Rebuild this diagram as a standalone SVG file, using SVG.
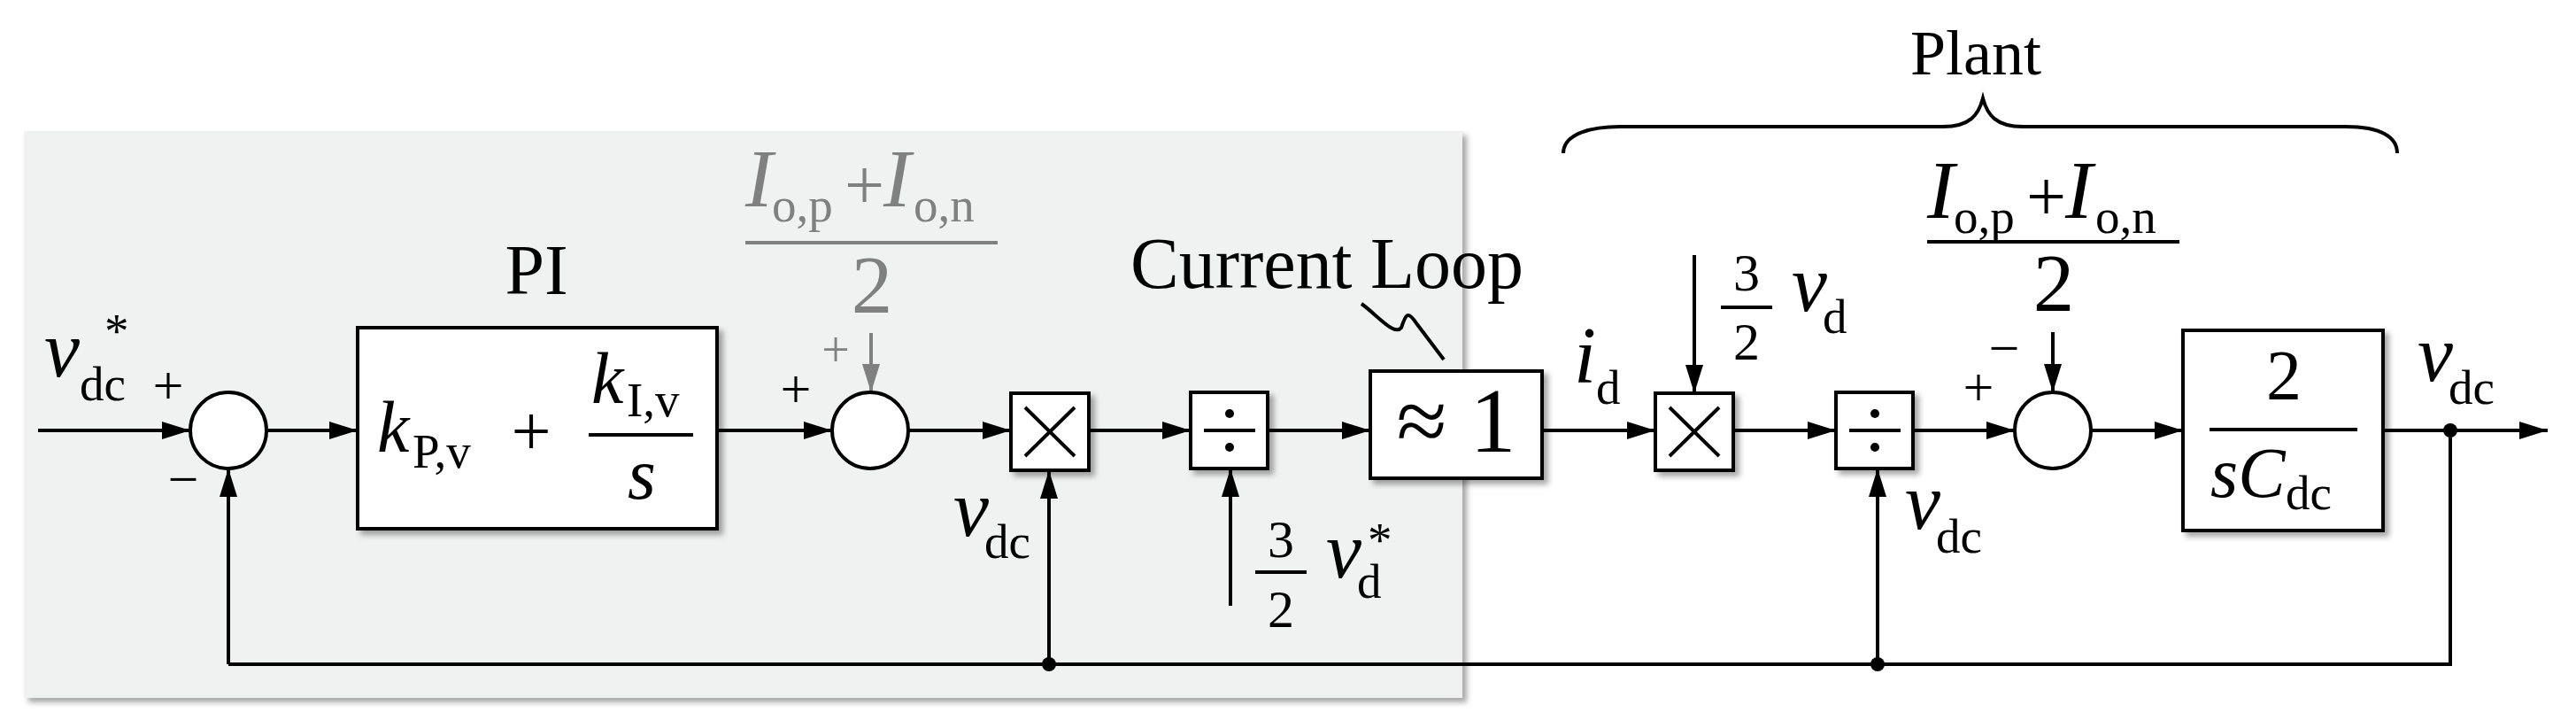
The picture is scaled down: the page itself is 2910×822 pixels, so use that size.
<svg xmlns="http://www.w3.org/2000/svg" width="2910" height="822" viewBox="0 0 2910 822">
<defs>
<marker id="ah" markerUnits="userSpaceOnUse" markerWidth="40" markerHeight="24" refX="32" refY="10" orient="auto"><path d="M0,0 L32,10 L0,20 z" fill="#000"/></marker>
<marker id="ahg" markerUnits="userSpaceOnUse" markerWidth="40" markerHeight="24" refX="32" refY="10" orient="auto"><path d="M0,0 L32,10 L0,20 z" fill="#808080"/></marker>
<filter id="sh" x="-10%" y="-10%" width="130%" height="130%"><feDropShadow dx="5" dy="5" stdDeviation="3" flood-color="#000" flood-opacity="0.35"/></filter>
</defs>
<style>
.w{stroke:#000;stroke-width:4;fill:none}
.a{stroke:#000;stroke-width:4;fill:none;marker-end:url(#ah)}
.g{stroke:#808080;stroke-width:4;fill:none;marker-end:url(#ahg)}
.bx{fill:#fff;stroke:#000;stroke-width:4;filter:url(#sh)}
.c{fill:#fff;stroke:#000;stroke-width:4}
text{font-family:"Liberation Serif","Times New Roman",serif;fill:#000}
.i{font-style:italic}
.gr{fill:#808080}
</style>
<rect x="27" y="148" width="1625" height="640" fill="#f0f2f1" filter="url(#sh)"/>
<g id="connectors">
<line class="a" x1="43" y1="486" x2="215" y2="486"/>
<line class="a" x1="301" y1="486" x2="404" y2="486"/>
<line class="a" x1="810" y1="486" x2="940" y2="486"/>
<line class="a" x1="1026" y1="486" x2="1142" y2="486"/>
<line class="a" x1="1230" y1="486" x2="1345" y2="486"/>
<line class="a" x1="1432" y1="486" x2="1548" y2="486"/>
<line class="a" x1="1742" y1="486" x2="1870" y2="486"/>
<line class="a" x1="1958" y1="486" x2="2074" y2="486"/>
<line class="a" x1="2161" y1="486" x2="2276" y2="486"/>
<line class="a" x1="2362" y1="486" x2="2466" y2="486"/>
<line class="a" x1="2692" y1="486" x2="2878" y2="486"/>
<polyline class="w" points="2768,486 2768,750 258,750"/>
<line class="a" x1="258" y1="750" x2="258" y2="529"/>
<line class="a" x1="1185" y1="750" x2="1185" y2="531"/>
<line class="a" x1="2121" y1="750" x2="2121" y2="529"/>
<line class="a" x1="1390" y1="684" x2="1390" y2="529"/>
<line class="a" x1="1914" y1="288" x2="1914" y2="444"/>
<line class="a" x1="2319" y1="375" x2="2319" y2="443"/>
<line class="g" x1="984" y1="376" x2="984" y2="443"/>
<circle cx="1185" cy="750" r="8"/>
<circle cx="2121" cy="750" r="8"/>
<circle cx="2768" cy="486" r="8"/>
<path class="w" stroke-width="3" d="M1538,343 C1555,355 1575,380 1583,370 C1588,355 1590,350 1600,365 L1631,406"/>
<path class="w" stroke-width="3" d="M1766,173 C1766,150 1800,143 1830,143 L2195,143 C2225,143 2235,130 2240,111 C2245,130 2255,143 2285,143 L2650,143 C2690,143 2708,155 2708,173"/>
</g>
<g id="sum1"><circle class="c" cx="258" cy="486" r="43"/><text x="190" y="456" font-size="62" text-anchor="middle">+</text><text x="207" y="562" font-size="62" text-anchor="middle">−</text></g>
<g id="vdcref"><text x="50" y="425" class="i" font-size="90">v</text><text x="90" y="452" font-size="55">dc</text><text x="118" y="392" font-size="55">*</text></g>
<g id="pi"><rect class="bx" x="404" y="370" width="406" height="227"/>
<text x="606" y="332" font-size="80" text-anchor="middle">PI</text>
<text x="426" y="510" class="i" font-size="82">k</text><text x="466" y="528" font-size="55">P,v</text>
<text x="600" y="514" font-size="80" text-anchor="middle">+</text>
<text x="668" y="455" class="i" font-size="82">k</text><text x="708" y="470" font-size="55">I,v</text>
<line class="w" x1="665" y1="491" x2="783" y2="491"/>
<text x="725" y="563" class="i" font-size="82" text-anchor="middle">s</text></g>
<g id="sum2"><circle class="c" cx="983" cy="486" r="43"/><text x="899" y="460" font-size="62" text-anchor="middle">+</text><text x="944" y="414" font-size="56" text-anchor="middle" class="gr">+</text>
<text x="842" y="233" class="i gr" font-size="93">I</text><text x="872" y="250" font-size="55" class="gr">o,p</text><text x="954" y="236" font-size="80" class="gr">+</text><text x="998" y="233" class="i gr" font-size="93">I</text><text x="1032" y="250" font-size="55" class="gr">o,n</text>
<line x1="842" y1="274" x2="1127" y2="274" stroke="#808080" stroke-width="4"/><text x="985" y="353" font-size="93" text-anchor="middle" class="gr">2</text></g>
<g id="mult1"><rect class="bx" x="1142" y="444" width="88" height="87"/><path class="w" stroke-width="3" d="M1158,460 L1214,515 M1214,460 L1158,515"/>
<text x="1077" y="605" class="i" font-size="90">v</text><text x="1112" y="630" font-size="55">dc</text></g>
<g id="div1"><rect class="bx" x="1345" y="443" width="87" height="86"/><line class="w" stroke-width="3" x1="1360" y1="486" x2="1418" y2="486"/><circle cx="1389" cy="467" r="5"/><circle cx="1389" cy="505" r="5"/>
<text x="1447" y="629" font-size="60" text-anchor="middle">3</text><line class="w" stroke-width="3" x1="1418" y1="646" x2="1476" y2="646"/><text x="1447" y="708" font-size="60" text-anchor="middle">2</text>
<text x="1498" y="652" class="i" font-size="90">v</text><text x="1533" y="675" font-size="55">d</text><text x="1545" y="628" font-size="55">*</text></g>
<g id="current"><rect class="bx" x="1548" y="419" width="194" height="121"/><text x="1645" y="510" font-size="104" text-anchor="middle">≈ 1</text>
<text x="1277" y="325" font-size="82">Current Loop</text></g>
<g id="id"><text x="1778" y="432" class="i" font-size="90">i</text><text x="1803" y="456" font-size="55">d</text></g>
<g id="mult2"><rect class="bx" x="1870" y="444" width="88" height="87"/><path class="w" stroke-width="3" d="M1886,460 L1942,515 M1942,460 L1886,515"/>
<text x="1973" y="328" font-size="60" text-anchor="middle">3</text><line class="w" stroke-width="3" x1="1944" y1="347" x2="2002" y2="347"/><text x="1973" y="406" font-size="60" text-anchor="middle">2</text>
<text x="2024" y="351" class="i" font-size="90">v</text><text x="2059" y="376" font-size="55">d</text></g>
<g id="div2"><rect class="bx" x="2074" y="443" width="87" height="86"/><line class="w" stroke-width="3" x1="2089" y1="486" x2="2147" y2="486"/><circle cx="2118" cy="467" r="5"/><circle cx="2118" cy="505" r="5"/>
<text x="2152" y="597" class="i" font-size="90">v</text><text x="2187" y="624" font-size="55">dc</text></g>
<g id="sum3"><circle class="c" cx="2319" cy="486" r="43"/><text x="2235" y="458" font-size="62" text-anchor="middle">+</text><text x="2264" y="414" font-size="62" text-anchor="middle">−</text>
<text x="2177" y="246" class="i" font-size="93">I</text><text x="2207" y="263" font-size="55">o,p</text><text x="2289" y="249" font-size="80">+</text><text x="2333" y="246" class="i" font-size="93">I</text><text x="2367" y="263" font-size="55">o,n</text>
<line class="w" x1="2177" y1="273" x2="2462" y2="273"/><text x="2320" y="351" font-size="93" text-anchor="middle">2</text></g>
<g id="plant"><rect class="bx" x="2466" y="373" width="226" height="226"/><text x="2580" y="451" font-size="80" text-anchor="middle">2</text><line class="w" x1="2496" y1="485" x2="2663" y2="485"/>
<text x="2497" y="561" class="i" font-size="80">sC</text><text x="2582" y="575" font-size="55">dc</text>
<text x="2232" y="84" font-size="72" text-anchor="middle">Plant</text></g>
<g id="vdcout"><text x="2731" y="430" class="i" font-size="90">v</text><text x="2766" y="456" font-size="55">dc</text></g>
</svg>
